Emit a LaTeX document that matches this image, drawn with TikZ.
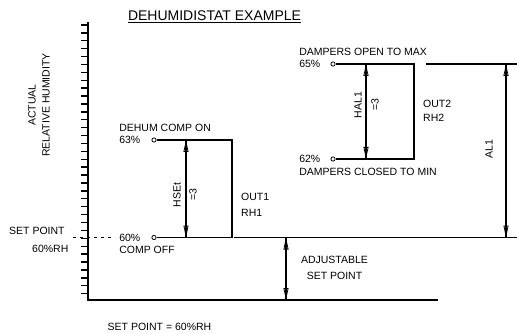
\documentclass[tikz,border=0pt]{standalone}
\usepackage{fontspec}
\setmainfont{Liberation Sans}
\usetikzlibrary{arrows.meta,positioning}

\begin{document}
\begin{tikzpicture}[
    x=1pt, y=-1pt,
    every node/.style={font=\fontsize{10.5}{12}\selectfont, inner sep=1pt},
    line/.style={line width=1.1pt},
    pt/.style={circle, draw, fill=white, minimum size=4.2pt, inner sep=0pt, line width=0.8pt},
    arrow/.style={line width=1.1pt, <->, >={Triangle[open,length=12pt,width=5pt,line width=0.8pt]}, postaction={draw,-}},
    tag/.style={rotate=90}
]
    \useasboundingbox (0,0) rectangle (517,334);

    \node[font=\fontsize{14}{16}\selectfont] (title) at (214.5,17) {\underline{DEHUMIDISTAT EXAMPLE}};
    \node[tag, align=center, font=\fontsize{10.5}{14}\selectfont] (ylabel) at (39,105) {ACTUAL\\RELATIVE HUMIDITY};

    % axis with ticks
    \coordinate (axtop) at (88,22);
    \coordinate (axorg) at (88,300);
    \coordinate (axend) at (438,300);
    \draw[line] (axtop) -- (axorg) -- (axend);
    \foreach \i in {0,...,34}
        \draw[line width=1.4pt] (80.5,{25+7.9*\i}) -- (88,{25+7.9*\i});

    % set point
    \node[anchor=west] (sptxt) at (8,231) {SET POINT};
    \node[anchor=west] (sprh) at (31,249) {60\%RH};
    \coordinate (dash0) at (73,237.5);
    \coordinate (dash1) at (115,237.5);
    \draw[line width=0.9pt, dash pattern=on 3pt off 4pt] (dash0) -- (dash1);

    % output 1
    \node[pt] (on1) at (154,140) {};
    \node[pt] (off1) at (154,237.5) {};
    \coordinate (on1r) at (232,140);
    \coordinate (off1r) at (232,237.5);
    \draw[line] (on1) -- (on1r) -- (off1r) -- (off1);
    \node[left=10pt of on1] (p63) {63\%};
    \node[above=2pt of p63.north west, anchor=south west] (ontxt) {DEHUM COMP ON};
    \node[left=10pt of off1] (p60) {60\%};
    \node[below=3pt of p60.south west, anchor=north west] (offtxt) {COMP OFF};

    \coordinate (hs1) at (186,140);
    \coordinate (hs2) at (186,237.5);
    \draw[arrow] (hs1) -- (hs2);
    \node[tag] (hset) at (177,195) {HSEt};
    \node[tag] (hseq) at (193,195) {=3};
    \node[anchor=west] (out1) at (240,197) {OUT1};
    \node[anchor=west] (rh1) at (240,213) {RH1};

    % output 2
    \node[pt] (max2) at (333,64) {};
    \node[pt] (min2) at (333,159) {};
    \coordinate (max2r) at (414,64);
    \coordinate (min2r) at (414,159);
    \draw[line] (max2) -- (max2r) -- (min2r) -- (min2);
    \node[left=9pt of max2] (p65) {65\%};
    \node[above=2pt of p65.north west, anchor=south west] (maxtxt) {DAMPERS OPEN TO MAX};
    \node[left=9pt of min2] (p62) {62\%};
    \node[below=3pt of p62.south west, anchor=north west] (mintxt) {DAMPERS CLOSED TO MIN};

    \coordinate (ha1) at (366,64);
    \coordinate (ha2) at (366,159);
    \draw[arrow] (ha1) -- (ha2);
    \node[tag] (hal) at (358,105) {HAL1};
    \node[tag] (haleq) at (375,105) {=3};
    \node[anchor=west] (out2) at (422,104) {OUT2};
    \node[anchor=west] (rh2) at (422,118) {RH2};

    % alarm and set point lines
    \coordinate (sp1) at (234,237.5);
    \coordinate (sp2) at (517,237.5);
    \draw[line] (sp1) -- (sp2);
    \coordinate (al0) at (426,64);
    \coordinate (al1) at (517,64);
    \draw[line] (al0) -- (al1);
    \coordinate (alt) at (506,64);
    \coordinate (alb) at (506,237.5);
    \draw[arrow] (alt) -- (alb);
    \node[tag] (al) at (489,149) {AL1};

    \coordinate (adjt) at (286,237.5);
    \coordinate (adjb) at (286,300);
    \draw[arrow] (adjt) -- (adjb);
    \node[align=center, font=\fontsize{10.5}{16}\selectfont] (adj) at (334.5,268) {ADJUSTABLE\\SET POINT};

    \node (spnote) at (159.5,326.5) {SET POINT = 60\%RH};
\end{tikzpicture}
\end{document}
